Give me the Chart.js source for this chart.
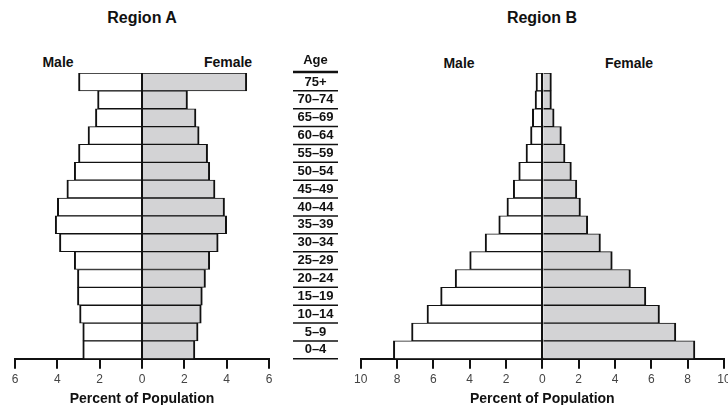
<!DOCTYPE html>
<html>
<head>
<meta charset="utf-8">
<script src="https://cdn.jsdelivr.net/npm/chart.js@4.4.1/dist/chart.umd.min.js"></script>
<style>
  html, body { margin: 0; padding: 0; width: 728px; height: 405px; overflow: hidden; background: #fff; font-family: "Liberation Sans", Arial, sans-serif; }
  canvas { position: absolute; top: 0; }
  .lbl { position: absolute; transform: translate(-50%, -50%); font-weight: bold; color: #111; white-space: nowrap; }
</style>
</head>
<body>
<div class="lbl" style="left:142px;top:18px;font-size:16px">Region A</div>
<div class="lbl" style="left:542px;top:18px;font-size:16px">Region B</div>
<div class="lbl" style="left:58px;top:62px;font-size:14px">Male</div>
<div class="lbl" style="left:228px;top:62px;font-size:14px">Female</div>
<div class="lbl" style="left:459px;top:63px;font-size:14px">Male</div>
<div class="lbl" style="left:629px;top:63px;font-size:14px">Female</div>

<canvas id="chartA" width="350" height="408" style="left:0"></canvas>
<canvas id="chartB" width="400" height="408" style="left:350px"></canvas>

<script>
// age groups, top of the pyramid first
const ageGroups = ["75+", "70–74", "65–69", "60–64", "55–59", "50–54", "45–49", "40–44",
  "35–39", "30–34", "25–29", "20–24", "15–19", "10–14", "5–9", "0–4"];

// percent of population, region A
const maleA = [3.0, 2.1, 2.2, 2.55, 3.0, 3.2, 3.55, 4.0, 4.1, 3.9, 3.2, 3.05, 3.05, 2.95, 2.8, 2.8];
const femaleA = [4.95, 2.15, 2.55, 2.7, 3.1, 3.2, 3.45, 3.9, 4.0, 3.6, 3.2, 3.0, 2.85, 2.8, 2.65, 2.5];

// percent of population, region B
const maleB = [0.35, 0.4, 0.55, 0.65, 0.9, 1.3, 1.6, 1.95, 2.4, 3.15, 4.0, 4.8, 5.6, 6.35, 7.2, 8.2];
const femaleB = [0.5, 0.5, 0.65, 1.05, 1.25, 1.6, 1.9, 2.1, 2.5, 3.2, 3.85, 4.85, 5.7, 6.45, 7.35, 8.4];

const FONT = '"Liberation Sans", Arial, sans-serif';

// solid line down the middle at 0%
const centerLine = {
  id: "centerLine",
  afterDatasetsDraw(chart) {
    const { ctx, chartArea, scales } = chart;
    const x = Math.round(scales.x.getPixelForValue(0));
    ctx.save();
    ctx.strokeStyle = "#111";
    ctx.lineWidth = 2;
    ctx.beginPath();
    ctx.moveTo(x, chartArea.top);
    ctx.lineTo(x, chartArea.bottom);
    ctx.stroke();
    ctx.restore();
  }
};

// draws the "Age" column to the right of region A's bars
const ageColumn = {
  id: "ageColumn",
  afterDraw(chart) {
    const { ctx, chartArea, scales } = chart;
    const x0 = chartArea.right + 24;
    const x1 = chartArea.right + 69;
    const cx = (x0 + x1) / 2;
    const rowH = (chartArea.bottom - chartArea.top) / ageGroups.length;
    ctx.save();
    ctx.fillStyle = "#111";
    ctx.strokeStyle = "#111";
    ctx.textAlign = "center";
    ctx.textBaseline = "middle";
    ctx.font = "bold 13px " + FONT;
    ctx.fillText("Age", cx, chartArea.top - 13);
    ctx.lineWidth = 2.5;
    ctx.beginPath();
    ctx.moveTo(x0, chartArea.top - 1);
    ctx.lineTo(x1, chartArea.top - 1);
    ctx.stroke();
    ctx.lineWidth = 1.5;
    ageGroups.forEach((g, i) => {
      const yc = scales.y.getPixelForTick(i);
      ctx.fillText(g, cx, yc);
      ctx.beginPath();
      ctx.moveTo(x0, yc + rowH / 2);
      ctx.lineTo(x1, yc + rowH / 2);
      ctx.stroke();
    });
    ctx.restore();
  }
};

function makePyramid(id, male, female, maxVal, padding, plugins) {
  const ctx = document.getElementById(id).getContext("2d");
  return new Chart(ctx, {
    type: "bar",
    data: {
      labels: ageGroups,
      datasets: [
        {
          label: "Male",
          data: male.map(v => -v),
          backgroundColor: "#ffffff",
          borderColor: "#111111",
          borderWidth: { top: 1, bottom: 1, left: 2, right: 0 },
          borderSkipped: false,
          categoryPercentage: 1,
          barPercentage: 1
        },
        {
          label: "Female",
          data: female,
          backgroundColor: "#d3d3d5",
          borderColor: "#111111",
          borderWidth: { top: 1, bottom: 1, left: 0, right: 2 },
          borderSkipped: false,
          categoryPercentage: 1,
          barPercentage: 1
        }
      ]
    },
    options: {
      indexAxis: "y",
      responsive: false,
      animation: false,
      layout: { padding: padding },
      scales: {
        x: {
          stacked: true,
          min: -maxVal,
          max: maxVal,
          ticks: {
            stepSize: 2,
            padding: 4,
            color: "#444",
            font: { family: FONT, size: 12 },
            callback: v => Math.abs(v)
          },
          grid: {
            drawOnChartArea: false,
            drawTicks: true,
            tickLength: 10,
            color: "#111",
            lineWidth: 2
          },
          border: { display: true, color: "#111", width: 2 },
          title: {
            display: true,
            text: "Percent of Population",
            color: "#111",
            font: { family: FONT, size: 14, weight: "bold" },
            padding: { top: 0, bottom: 0 }
          }
        },
        y: {
          stacked: true,
          display: false
        }
      },
      plugins: {
        legend: { display: false },
        tooltip: { enabled: false }
      }
    },
    plugins: [centerLine].concat(plugins)
  });
}

makePyramid("chartA", maleA, femaleA, 6, { left: 15, right: 81, top: 73, bottom: 0 }, [ageColumn]);
makePyramid("chartB", maleB, femaleB, 10, { left: 10, right: 26, top: 73, bottom: 0 }, []);
</script>
</body>
</html>
